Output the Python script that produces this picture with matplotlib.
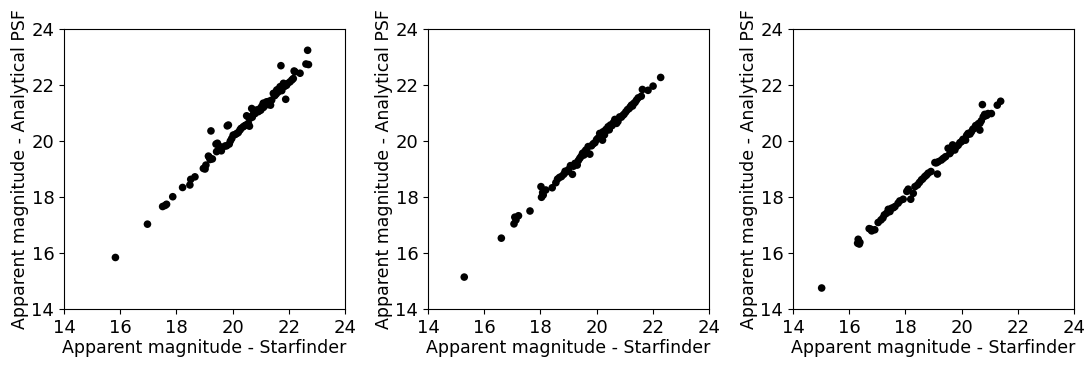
import matplotlib
matplotlib.use("Agg")
import matplotlib.pyplot as plt

# Panel 1
x1 = [15.83, 16.97, 17.51, 17.60, 17.65, 17.87, 18.22, 18.48, 18.51, 18.66,
      18.96, 19.02, 19.05, 19.14, 19.17, 19.20, 19.23, 19.28, 19.41, 19.43,
      19.46, 19.49, 19.55, 19.61, 19.73, 19.79, 19.81, 19.85, 19.88, 19.97,
      20.02, 20.09, 20.15, 20.26, 20.30, 20.38, 20.48, 20.50, 20.56, 20.60,
      20.62, 20.68, 20.74, 20.80, 20.86, 20.98, 21.04, 21.09, 21.15, 21.21,
      21.30, 21.39, 21.45, 21.50, 21.57, 21.63, 21.69, 21.72, 21.81, 21.89,
      21.92, 22.04, 22.11, 22.16, 22.19, 22.22, 22.40, 22.61, 22.67, 22.70,
      20.20, 20.44, 20.56, 20.92, 21.00, 21.25, 21.35, 21.62, 21.75, 21.85,
      19.60, 19.92, 20.70, 21.10, 21.55, 21.95]
y1 = [15.84, 17.03, 17.66, 17.70, 17.74, 18.01, 18.34, 18.43, 18.63, 18.72,
      19.02, 19.00, 19.14, 19.46, 19.42, 19.34, 20.36, 19.36, 19.89, 19.62,
      19.92, 19.68, 19.80, 19.74, 19.82, 19.83, 20.54, 20.57, 19.89, 20.09,
      20.21, 20.23, 20.27, 20.39, 20.45, 20.51, 20.57, 20.90, 20.63, 20.53,
      20.81, 21.16, 20.96, 20.98, 21.11, 21.16, 21.24, 21.35, 21.35, 21.40,
      21.42, 21.46, 21.70, 21.62, 21.82, 21.85, 21.94, 22.69, 22.06, 21.49,
      21.99, 22.11, 22.18, 22.23, 22.50, 22.47, 22.42, 22.75, 23.24, 22.73,
      20.30, 20.55, 20.86, 21.05, 21.10, 21.30, 21.28, 21.75, 21.80, 21.95,
      19.65, 20.00, 20.85, 21.20, 21.68, 22.05]

# Panel 2
x2 = [15.29, 16.61, 17.06, 17.13, 17.09, 17.22, 17.63, 18.02, 18.08, 18.04,
      18.10, 18.19, 18.42, 18.55, 18.61, 18.75, 18.83, 18.93, 19.14, 19.07,
      19.23, 19.31, 19.40, 19.50, 19.58, 19.70, 19.76, 19.82, 19.94, 20.11,
      20.21, 20.23, 20.33, 20.41, 20.49, 20.65, 20.71, 20.82, 20.94, 21.04,
      21.16, 21.24, 21.32, 21.42, 21.48, 21.59, 21.63, 21.83, 22.01, 22.28,
      19.00, 19.35, 19.45, 19.62, 19.66, 19.88, 20.05, 20.15, 20.28, 20.36,
      20.45, 20.55, 20.60, 20.76, 20.88, 20.98, 21.10, 21.20, 21.28, 21.37,
      18.68, 18.88, 19.18, 19.55, 20.00]
y2 = [15.14, 16.53, 17.04, 17.18, 17.28, 17.33, 17.50, 18.37, 18.16, 17.99,
      18.07, 18.25, 18.33, 18.51, 18.64, 18.73, 18.81, 18.90, 18.81, 19.12,
      19.20, 19.14, 19.38, 19.56, 19.62, 19.80, 19.53, 19.83, 19.94, 20.27,
      20.03, 20.33, 20.41, 20.51, 20.57, 20.77, 20.63, 20.86, 20.92, 21.04,
      21.16, 21.28, 21.34, 21.46, 21.54, 21.60, 21.84, 21.81, 21.96, 22.27,
      18.98, 19.30, 19.45, 19.68, 19.58, 19.90, 20.10, 20.18, 20.22, 20.38,
      20.40, 20.55, 20.66, 20.70, 20.85, 20.96, 21.12, 21.22, 21.25, 21.38,
      18.70, 18.92, 19.10, 19.50, 20.05]

# Panel 3
x3 = [15.02, 16.32, 16.36, 16.38, 16.30, 16.71, 16.80, 16.91, 16.77, 17.03,
      17.13, 17.25, 17.33, 17.39, 17.45, 17.51, 17.63, 17.74, 17.80, 17.92,
      18.10, 18.19, 18.28, 18.34, 18.43, 18.57, 18.69, 18.81, 18.91, 19.14,
      19.05, 19.17, 19.28, 19.43, 19.52, 19.62, 19.68, 19.76, 19.82, 19.94,
      20.05, 20.14, 20.23, 20.35, 20.45, 20.53, 20.65, 20.65, 20.77, 20.74,
      20.82, 20.94, 21.06, 21.27, 21.39,
      18.50, 18.75, 19.10, 19.35, 19.58, 19.70, 19.88, 20.00, 20.18, 20.30,
      20.40, 20.50, 20.60, 20.70, 20.85, 20.90, 17.20, 17.58, 18.05, 18.62]
y3 = [14.75, 16.49, 16.32, 16.38, 16.35, 16.87, 16.79, 16.83, 16.85, 17.09,
      17.18, 17.36, 17.42, 17.56, 17.48, 17.60, 17.66, 17.78, 17.86, 17.92,
      18.28, 17.92, 18.13, 18.37, 18.43, 18.61, 18.73, 18.85, 18.91, 18.82,
      19.23, 19.26, 19.32, 19.44, 19.74, 19.62, 19.86, 19.68, 19.80, 19.94,
      20.06, 20.03, 20.27, 20.33, 20.45, 20.51, 20.39, 20.63, 20.86, 21.30,
      20.95, 20.98, 20.98, 21.28, 21.42,
      18.52, 18.78, 19.22, 19.38, 19.55, 19.72, 19.85, 19.98, 20.20, 20.25,
      20.42, 20.55, 20.62, 20.72, 20.90, 20.92, 17.25, 17.62, 18.20, 18.65]

xs = [x1, x2, x3]
ys = [y1, y2, y3]
ticks = [14, 16, 18, 20, 22, 24]

fig = plt.figure(figsize=(10.9, 3.65), dpi=100)
lefts = [64 / 1090, 428 / 1090, 793 / 1090]
for left, xv, yv in zip(lefts, xs, ys):
    ax = fig.add_axes([left, 56 / 365, 281 / 1090, 280 / 365])
    ax.scatter(xv, yv, s=30, c='black', edgecolors='none')
    ax.set_xlim(14, 24)
    ax.set_ylim(14, 24)
    ax.set_xticks(ticks)
    ax.set_yticks(ticks)
    ax.tick_params(labelsize=13)
    ax.set_xlabel('Apparent magnitude - Starfinder', fontsize=12.5, labelpad=1.5)
    ax.set_ylabel('Apparent magnitude - Analytical PSF', fontsize=12.5, labelpad=1.5)

fig.savefig('out.png', dpi=100)
